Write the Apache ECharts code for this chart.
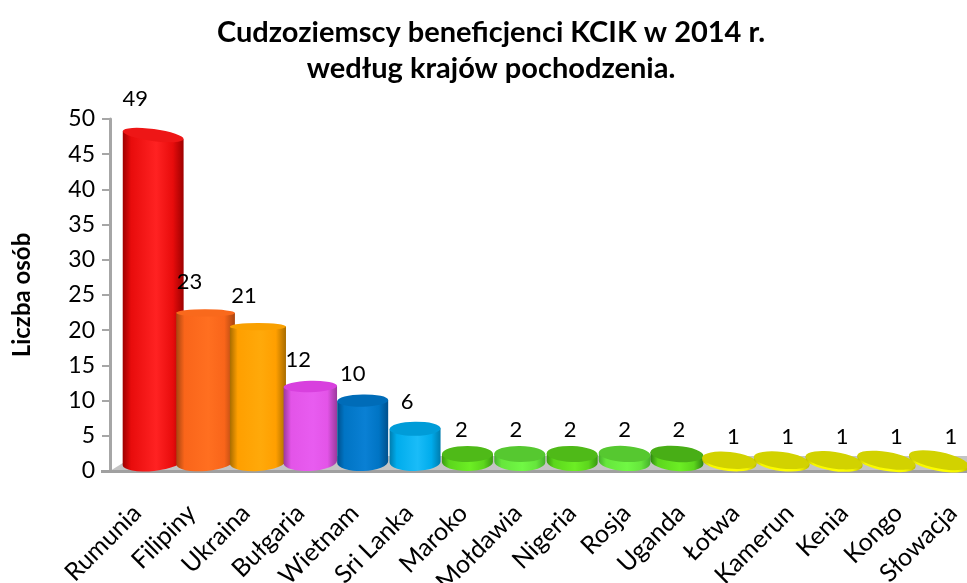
<!DOCTYPE html>
<html lang="pl">
<head>
    <meta charset="UTF-8">
    <script src="https://cdn.jsdelivr.net/npm/echarts@6/dist/echarts.min.js"></script>
    <style>
        html, body { margin: 0; padding: 0; background: #fff; }
    </style>
</head>
<body>
<div id="chart" style="width: 967px;height: 583px"></div>
<script>
    var countries = ['Rumunia', 'Filipiny', 'Ukraina', 'Bułgaria', 'Wietnam', 'Sri Lanka', 'Maroko', 'Mołdawia',
        'Nigeria', 'Rosja', 'Uganda', 'Łotwa', 'Kamerun', 'Kenia', 'Kongo', 'Słowacja'];
    var counts = [49, 23, 21, 12, 10, 6, 2, 2, 2, 2, 2, 1, 1, 1, 1, 1];
    var titleLines = ['Cudzoziemscy beneficjenci KCIK w 2014 r.', 'według krajów pochodzenia.'];
    var yName = 'Liczba osób';

    // side dark, side mid, side light, top of the cylinder
    var barColors = [
        ['#9c0000', '#e80c0c', '#ff2222', '#ee1616'],
        ['#a84510', '#f9651a', '#ff6f20', '#f9691c'],
        ['#a86c00', '#ff9f00', '#ffa90a', '#f9a000'],
        ['#9a3a9c', '#e354e8', '#e85cf0', '#d840de'],
        ['#00508c', '#0074c4', '#0a80d4', '#006cb8'],
        ['#007cae', '#00acec', '#1abcf8', '#009cd8'],
        ['#3a9a10', '#5cd61c', '#6cee24', '#4fba18'],
        ['#46b02c', '#66e63c', '#70f844', '#56c830'],
        ['#3a9a10', '#5cd61c', '#6cee24', '#4fba18'],
        ['#46b02c', '#66e63c', '#70f844', '#56c830'],
        ['#2e8410', '#5cd61c', '#6cee24', '#48ae16'],
        ['#b8b800', '#f6f600', '#ffff00', '#d2d200'],
        ['#b8b800', '#f6f600', '#ffff00', '#d2d200'],
        ['#b8b800', '#f6f600', '#ffff00', '#d2d200'],
        ['#b8b800', '#f6f600', '#ffff00', '#d2d200'],
        ['#b8b800', '#f6f600', '#ffff00', '#d2d200']
    ];

    var FONT = 'Lato, "Open Sans", sans-serif';
    var EYE_Y = 320;   // horizon of the fake perspective
    var BASE_RY = 9;

    function ellipseTilt(cx, cy, baseY) {
        var k = cx < 480 ? 0.018 : 0.024;
        return (cx - 480) * k * (cy - EYE_Y) / (baseY - EYE_Y);
    }

    function edge(cx, cy, rx, deg) {
        var r = deg * Math.PI / 180;
        return { lx: cx - rx * Math.cos(r), ly: cy - rx * Math.sin(r), rx: cx + rx * Math.cos(r), ry: cy + rx * Math.sin(r) };
    }

    function topCenter(y, ry) {
        if (y < EYE_Y) return y + ry + 3 * (EYE_Y - y) / 194;
        if (y < 387) return y + ry * (1 - (y - EYE_Y) / 66);
        return y - Math.max(0, (y - 430) * 0.11);
    }

    function renderFloor(params, api) {
        var g = params.coordSys;
        var bottom = g.y + g.height;
        var left = g.x;
        var right = g.x + g.width;
        return {
            type: 'group',
            children: [{
                type: 'polygon',
                shape: { points: [[left, bottom], [left + 24, bottom - 15], [right, bottom - 15], [right, bottom]] },
                style: { fill: '#c4c4c4' }
            }, {
                type: 'rect',
                shape: { x: left - 9, y: bottom - 1, width: right - left + 9, height: 3 },
                style: { fill: '#a0a0a0' }
            }]
        };
    }

    function renderBar(params, api) {
        var i = api.value(0);
        var p = api.coord([i, api.value(1)]);
        var zero = api.coord([i, 0]);
        // the bars sit deeper in the 3d box than the axis, so they drift from its categories
        var cx = p[0] + 16 - i * 2;
        var dist = cx - 480;
        var w = 51 + Math.max(0, Math.abs(dist) - 120) * (dist < 0 ? 0.05 : 0.028);
        var rx = w / 2;
        var baseY = zero[1] - 9;
        var off = Math.abs(p[1] - EYE_Y);
        var ry = 3.5 + off * (p[1] > EYE_Y ? 0.033 : 0.013);
        var topY = topCenter(p[1], ry);
        var tTop = ellipseTilt(cx, topY, baseY);
        var tBase = ellipseTilt(cx, baseY, baseY);
        var a = edge(cx, topY, rx, tTop);
        var b = edge(cx, baseY, rx, tBase);
        var c = barColors[i];
        var side = new echarts.graphic.LinearGradient(0, 0, 1, 0, [
            { offset: 0, color: c[0] },
            { offset: 0.14, color: c[1] },
            { offset: 0.55, color: c[2] },
            { offset: 0.82, color: c[1] },
            { offset: 1, color: c[0] }
        ]);
        var body = 'M' + a.lx + ' ' + a.ly + ' L' + b.lx + ' ' + b.ly +
            ' A' + rx + ' ' + BASE_RY + ' ' + tBase + ' 0 0 ' + b.rx + ' ' + b.ry +
            ' L' + a.rx + ' ' + a.ry + ' Z';
        var top = 'M' + a.lx + ' ' + a.ly +
            ' A' + rx + ' ' + ry + ' ' + tTop + ' 1 0 ' + a.rx + ' ' + a.ry +
            ' A' + rx + ' ' + ry + ' ' + tTop + ' 1 0 ' + a.lx + ' ' + a.ly + ' Z';
        return {
            type: 'group',
            children: [
                { type: 'path', shape: { pathData: body }, style: { fill: side } },
                { type: 'path', shape: { pathData: top }, style: { fill: c[3] } },
                {
                    type: 'text',
                    z2: 100,
                    style: {
                        x: p[0] - 2,
                        y: p[1] - 27,
                        text: String(api.value(1)),
                        font: '22px ' + FONT,
                        fill: '#000',
                        align: 'center',
                        verticalAlign: 'middle'
                    }
                }
            ]
        };
    }

    var mycharts = echarts.init(document.getElementById('chart'));
    var option = {
        animation: false,
        backgroundColor: '#fff',
        title: titleLines.map(function (t, i) {
            return {
                text: t,
                left: 486,
                top: 13 + i * 36,
                textAlign: 'center',
                textStyle: { fontFamily: FONT, fontSize: 29, fontWeight: 'bold', color: '#000' }
            };
        }),
        grid: { left: 110, right: -13, top: 119, bottom: 112, outerBoundsMode: 'none' },
        xAxis: {
            type: 'category',
            data: countries,
            axisLine: { show: false },
            axisTick: { show: false },
            axisLabel: { rotate: 45, fontFamily: FONT, fontSize: 25, color: '#000', margin: 38, interval: 0 }
        },
        yAxis: {
            type: 'value',
            min: 0,
            max: 50,
            interval: 5,
            name: yName,
            nameLocation: 'middle',
            nameGap: 76,
            nameTextStyle: { fontFamily: FONT, fontSize: 24, fontWeight: 'bold', color: '#000' },
            splitLine: { show: false },
            axisLine: { show: true, lineStyle: { color: '#a6a6a6', width: 3 } },
            axisTick: { show: true, inside: false, length: 8, lineStyle: { color: '#a6a6a6', width: 2 } },
            axisLabel: { fontFamily: FONT, fontSize: 23, color: '#000', margin: 15 }
        },
        series: [{
            type: 'custom',
            renderItem: renderFloor,
            data: [[0, 0]],
            silent: true,
            z: 1
        }, {
            type: 'custom',
            renderItem: renderBar,
            data: counts.map(function (v, i) { return [i, v]; }),
            encode: { x: 0, y: 1 },
            clip: false,
            z: 2
        }]
    };
    mycharts.setOption(option);
</script>
</body>
</html>
